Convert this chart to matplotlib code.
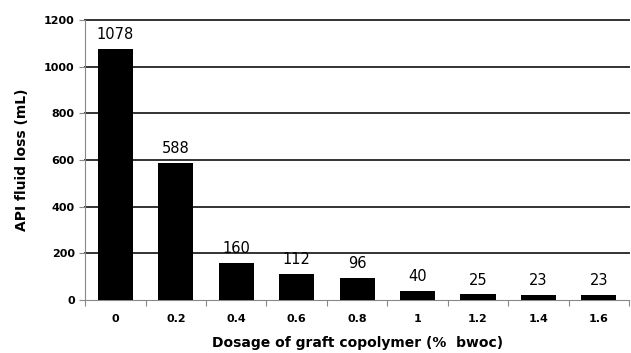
import numpy as np
import matplotlib
matplotlib.use("Agg")
import matplotlib.pyplot as plt

dosages = ["0", "0.2", "0.4", "0.6", "0.8", "1", "1.2", "1.4", "1.6"]
fluid_loss = [1078, 588, 160, 112, 96, 40, 25, 23, 23]
y_ticks = [0, 200, 400, 600, 800, 1000, 1200]


def main():
    fig = plt.figure(figsize=(6.31, 3.53), dpi=100)
    ax = fig.add_axes([0.135, 0.15, 0.862, 0.793])

    x = np.arange(len(dosages))
    ax.bar(x, fluid_loss, width=0.58, color="black", zorder=3)
    for xi, v in zip(x, fluid_loss):
        ax.text(xi, v + 28, str(v), ha="center", va="bottom", fontsize=10.5)

    ax.set_xlim(-0.5, len(dosages) - 0.5)
    ax.set_ylim(0, 1200)
    ax.set_yticks(y_ticks)
    ax.set_yticklabels([str(t) for t in y_ticks], fontsize=8, fontweight="bold")
    ax.yaxis.grid(True, color="#333333", linewidth=1.4)
    for gl in ax.get_ygridlines():
        gl.set_clip_on(False)
    ax.get_ygridlines()[0].set_visible(False)
    ax.set_axisbelow(True)

    # tick marks between categories, labels centred
    ax.set_xticks(np.arange(-0.5, len(dosages), 1.0))
    ax.set_xticklabels([])
    ax.set_xticks(x, minor=True)
    ax.set_xticklabels(dosages, minor=True, fontsize=8, fontweight="bold")
    ax.tick_params(axis="x", which="minor", length=0, pad=10)
    ax.tick_params(axis="x", which="major", length=4, color="#888888")
    ax.tick_params(axis="y", length=4, color="#888888")

    for s in ["top", "right"]:
        ax.spines[s].set_visible(False)
    for s in ["left", "bottom"]:
        ax.spines[s].set_color("#888888")

    ax.set_xlabel("Dosage of graft copolymer (%  bwoc)", fontsize=10,
                  fontweight="bold", labelpad=9)
    ax.set_ylabel("API fluid loss (mL)", fontsize=10, fontweight="bold",
                  labelpad=11)

    fig.savefig("out.png", dpi=100)


if __name__ == '__main__':
    main()
